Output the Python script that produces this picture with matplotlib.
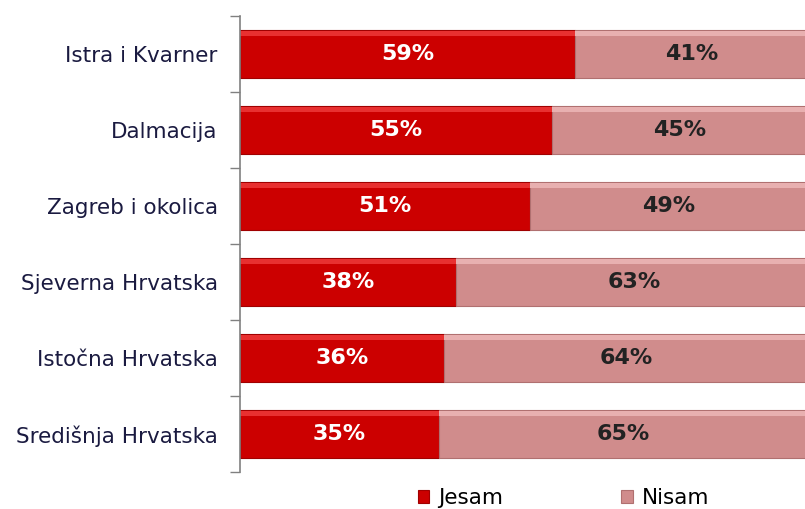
import numpy as np
import matplotlib.pyplot as plt

# podaci po regijama
regije = ['Istra i Kvarner', 'Dalmacija', 'Zagreb i okolica',
          'Sjeverna Hrvatska', 'Istočna Hrvatska', 'Središnja Hrvatska']
jesam = [59, 55, 51, 38, 36, 35]
nisam = [41, 45, 49, 63, 64, 65]

c_jesam = '#CC0000'
c_nisam = '#D08C8C'

fig = plt.figure(figsize=(8.05, 5.09), dpi=100)
ax = fig.add_axes([240/805, 1-472/509, 1-240/805, (472-16)/509])

y = np.arange(len(regije))
h = 0.62
b1 = ax.barh(y, jesam, height=h, color=c_jesam, edgecolor='#A00000', linewidth=0.8)
b2 = ax.barh(y, nisam, left=jesam, height=h, color=c_nisam, edgecolor='#B07070', linewidth=0.8)

# svjetliji rub na vrhu traka (imitacija efekta)
ax.barh(y - h/2 + 0.04, jesam, height=0.06, color='#E83030', linewidth=0)
ax.barh(y - h/2 + 0.04, nisam, left=jesam, height=0.06, color='#E8B0B0', linewidth=0)

for i in range(len(regije)):
    ax.text(jesam[i]/2, y[i], f'{jesam[i]}%', ha='center', va='center',
            color='white', fontsize=16, fontweight='bold')
    ax.text(jesam[i] + nisam[i]/2, y[i], f'{nisam[i]}%', ha='center', va='center',
            color='#222222', fontsize=16, fontweight='bold')

ax.set_xlim(0, 99.5)
ax.set_ylim(len(regije) - 0.5, -0.5)
ax.set_yticks(y)
ax.set_yticklabels(regije, fontsize=15.5, color='#1a1a40')
ax.tick_params(axis='y', which='major', length=0, pad=16)
ax.set_yticks(np.arange(-0.5, len(regije)), minor=True)
ax.tick_params(axis='y', which='minor', length=7, color='#808080', width=1)
ax.set_xticks([])
for s in ['top', 'right', 'bottom']:
    ax.spines[s].set_visible(False)
ax.spines['left'].set_color('#808080')
ax.spines['left'].set_linewidth(1.2)

fig.legend([b1, b2], ['Jesam', 'Nisam'], loc='center', bbox_to_anchor=(0.70, 0.022),
           ncol=2, frameon=False, fontsize=15.5, handlelength=0.55, handleheight=0.55,
           handletextpad=0.4, columnspacing=5.5)

fig.savefig('out.png', dpi=100)
